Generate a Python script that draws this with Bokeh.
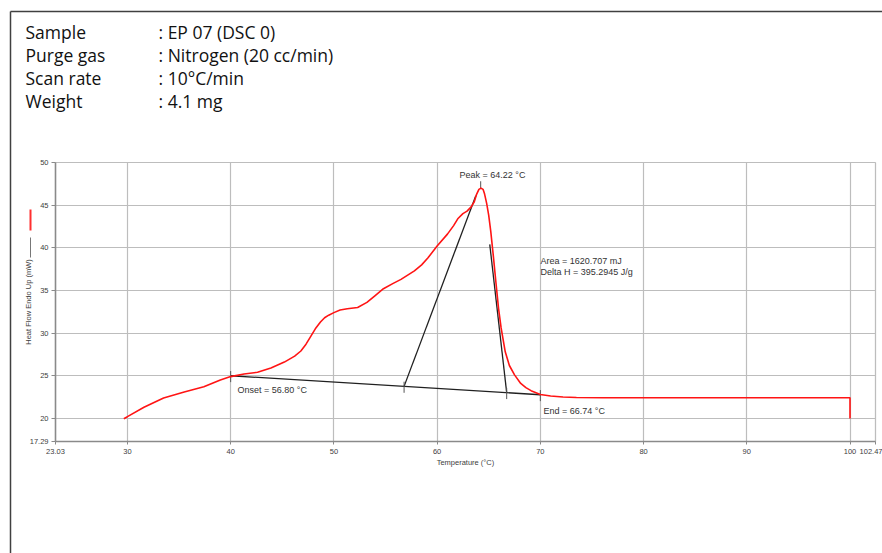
from bokeh.plotting import figure
from bokeh.models import Range1d, FixedTicker, LinearAxis, Grid, BoxAnnotation
from bokeh.core.properties import value
from bokeh.embed import file_html
from bokeh.resources import INLINE

# ---------------- data ----------------
temp_c = [29.65, 30.0, 31.6, 33.5, 35.5, 37.4, 39.0, 40.0, 41.3, 42.6, 43.9, 45.2,
          46.2, 46.8, 47.3, 47.7, 48.2, 48.7, 49.1, 49.5, 50.0, 50.6, 51.3, 52.3,
          53.2, 54.0, 54.8, 55.7, 56.5, 57.8, 58.5, 59.1, 60.0, 61.0, 61.6, 62.0,
          62.5, 62.9, 63.3, 63.6, 63.8, 64.05, 64.25, 64.45, 64.6, 64.8, 65.0, 65.2,
          65.45, 65.7, 65.95, 66.2, 66.6, 67.0, 67.5, 68.1, 68.6, 69.1, 70.0, 71.0,
          72.2, 73.5, 76.1, 100.0, 100.0]
heat_flow_mw = [19.96, 20.2, 21.3, 22.4, 23.1, 23.7, 24.5, 24.9, 25.2, 25.4, 25.9, 26.6,
                27.3, 27.9, 28.7, 29.5, 30.5, 31.3, 31.8, 32.1, 32.4, 32.7, 32.85, 33.0,
                33.6, 34.4, 35.2, 35.8, 36.3, 37.3, 38.0, 38.8, 40.2, 41.6, 42.6, 43.4,
                44.0, 44.3, 44.8, 45.4, 46.2, 46.85, 47.0, 46.85, 46.3, 45.2, 43.8, 41.9,
                39.0, 35.9, 32.9, 30.6, 27.8, 26.2, 25.1, 24.1, 23.6, 23.25, 22.8, 22.62,
                22.5, 22.45, 22.42, 22.42, 20.0]

x_ticks = [23.03, 30, 40, 50, 60, 70, 80, 90, 100, 102.47]
x_tick_labels = ["23.03", "30", "40", "50", "60", "70", "80", "90", "100", "102.47"]
y_ticks = [17.29, 20, 25, 30, 35, 40, 45, 50]
y_tick_labels = ["17.29", "20", "25", "30", "35", "40", "45", "50"]

baseline_t = [40.0, 70.0]
baseline_h = [25.0, 22.77]
onset_t = 56.80
end_t = 66.74
peak_t = 64.22
peak_h = 47.0
left_tangent_top = [63.75, 46.1]
right_tangent_top = [65.1, 40.4]
area_mj = 1620.707
delta_h_jg = 395.2945

header_keys = ["Sample", "Purge gas", "Scan rate", "Weight"]
header_vals = [": EP 07 (DSC 0)", ": Nitrogen (20 cc/min)", ": 10°C/min", ": 4.1 mg"]

# ---------------- layout helpers ----------------
W, H = 882, 553
X0, X1 = x_ticks[0], x_ticks[-1]
Y0, Y1 = y_ticks[0], y_ticks[-1]
FL, FR, FT, FB = 55, 875, 162, 441  # plot-area edges in pixels
SX = (FR - FL) / (X1 - X0)
SY = (FB - FT) / (Y1 - Y0)


def dx(px):
    return X0 + (px - FL) / SX


def dy(py):
    return Y1 - (py - FT) / SY


def base(t):
    return baseline_h[0] + (t - baseline_t[0]) * (baseline_h[1] - baseline_h[0]) / (baseline_t[1] - baseline_t[0])


p = figure(width=W, height=H, output_backend="svg", toolbar_location=None,
           x_range=Range1d(dx(0), dx(W)), y_range=Range1d(dy(H), dy(0)),
           x_axis_location=None, y_axis_location=None, min_border=0)
p.background_fill_color = "white"
p.border_fill_color = "white"
p.outline_line_color = None
p.xgrid.visible = False
p.ygrid.visible = False

# grid limited to the plot area
grid_color = "#bdbdbd"
gx = Grid(dimension=0, ticker=FixedTicker(ticks=x_ticks), bounds=(X0, X1), cross_bounds=(Y0, Y1),
          grid_line_color=grid_color, grid_line_width=1.2)
gy = Grid(dimension=1, ticker=FixedTicker(ticks=y_ticks), bounds=(Y0, Y1), cross_bounds=(X0, X1),
          grid_line_color=grid_color, grid_line_width=1.2)
p.add_layout(gx)
p.add_layout(gy)
p.add_layout(BoxAnnotation(left=X0, right=X1, bottom=Y0, top=Y1, fill_color=None,
                           line_color=grid_color, line_width=1.2, level="underlay"))

xax = LinearAxis(fixed_location=Y0, bounds=(X0, X1), ticker=FixedTicker(ticks=x_ticks),
                 axis_label="Temperature (°C)")
yax = LinearAxis(fixed_location=X0, bounds=(Y0, Y1), ticker=FixedTicker(ticks=y_ticks),
                 axis_label="Heat Flow Endo Up (mW)")
xax.major_label_overrides = {t: s for t, s in zip(x_ticks, x_tick_labels)}
yax.major_label_overrides = {t: s for t, s in zip(y_ticks, y_tick_labels)}
for ax in (xax, yax):
    ax.axis_line_color = "#8a8a8a"
    ax.axis_line_width = 1.5
    ax.major_tick_line_color = "#8a8a8a"
    ax.major_tick_in = 0
    ax.minor_tick_line_color = None
    ax.major_label_text_font = "Liberation Sans"
    ax.major_label_text_font_size = "7.5px"
    ax.major_label_text_color = "#404040"
    ax.axis_label_text_font = "Liberation Sans"
    ax.axis_label_text_font_size = "7.5px"
    ax.axis_label_text_font_style = "normal"
    ax.axis_label_text_color = "#404040"
xax.major_tick_out = 3
yax.major_tick_out = 4
xax.major_label_standoff = 4
yax.major_label_standoff = 3
xax.axis_label_standoff = 1
yax.axis_label_standoff = -6
p.add_layout(xax, "below")
p.add_layout(yax, "left")

# construction lines (baseline, tangents, markers)
ink = "#202020"
p.line(baseline_t, baseline_h, line_color=ink, line_width=1.3)
p.segment(x0=[onset_t, right_tangent_top[0]], y0=[base(onset_t), right_tangent_top[1]],
          x1=[left_tangent_top[0], end_t], y1=[left_tangent_top[1], base(end_t)],
          line_color=ink, line_width=1.3)
mark_t = [baseline_t[0], onset_t, end_t, baseline_t[1]]
p.segment(x0=mark_t, y0=[base(t) + 0.55 for t in mark_t],
          x1=mark_t, y1=[base(t) - 0.75 for t in mark_t],
          line_color="#555555", line_width=1)
p.segment(x0=[peak_t], y0=[peak_h], x1=[peak_t], y1=[peak_h + 0.8],
          line_color="#555555", line_width=1)

# DSC curve
p.line(temp_c, heat_flow_mw, line_color="#ff1414", line_width=1.6)

# annotation texts
afont = value("Liberation Sans")
p.text(x=[dx(492)], y=[dy(174)], text=[f"Peak = {peak_t:.2f} °C"], text_font=afont,
       text_font_size="9px", text_color="#333333", text_align="center", text_baseline="middle")
p.text(x=[dx(540), dx(540), dx(237), dx(543)], y=[dy(260), dy(271), dy(389), dy(410)],
       text=[f"Area = {area_mj:.3f} mJ", f"Delta H = {delta_h_jg:.4f} J/g",
             f"Onset = {onset_t:.2f} °C", f"End = {end_t:.2f} °C"],
       text_font=afont, text_font_size="9px", text_color="#333333",
       text_align="left", text_baseline="middle")

# legend strokes beside the y label
p.segment(x0=[dx(30)], y0=[dy(209)], x1=[dx(30)], y1=[dy(230)], line_color="#ff3030", line_width=2)
p.segment(x0=[dx(30)], y0=[dy(237)], x1=[dx(30)], y1=[dy(257)], line_color="#777777", line_width=1)

# outer frame lines of the report
p.segment(x0=[dx(10), dx(10)], y0=[dy(11), dy(11)], x1=[dx(900), dx(10)], y1=[dy(11), dy(600)],
          line_color="#404040", line_width=1.5)

# header block
hy = [dy(31 + 23 * i) for i in range(len(header_keys))]
p.text(x=[dx(25)] * len(header_keys), y=hy, text=header_keys, text_font=value("Open Sans"),
       text_font_size="17.5px", text_color="#111111", text_baseline="middle")
p.text(x=[dx(158)] * len(header_vals), y=hy, text=header_vals, text_font=value("Open Sans"),
       text_font_size="17.5px", text_color="#111111", text_baseline="middle")

open("out.html", "w").write(file_html(p, INLINE))
